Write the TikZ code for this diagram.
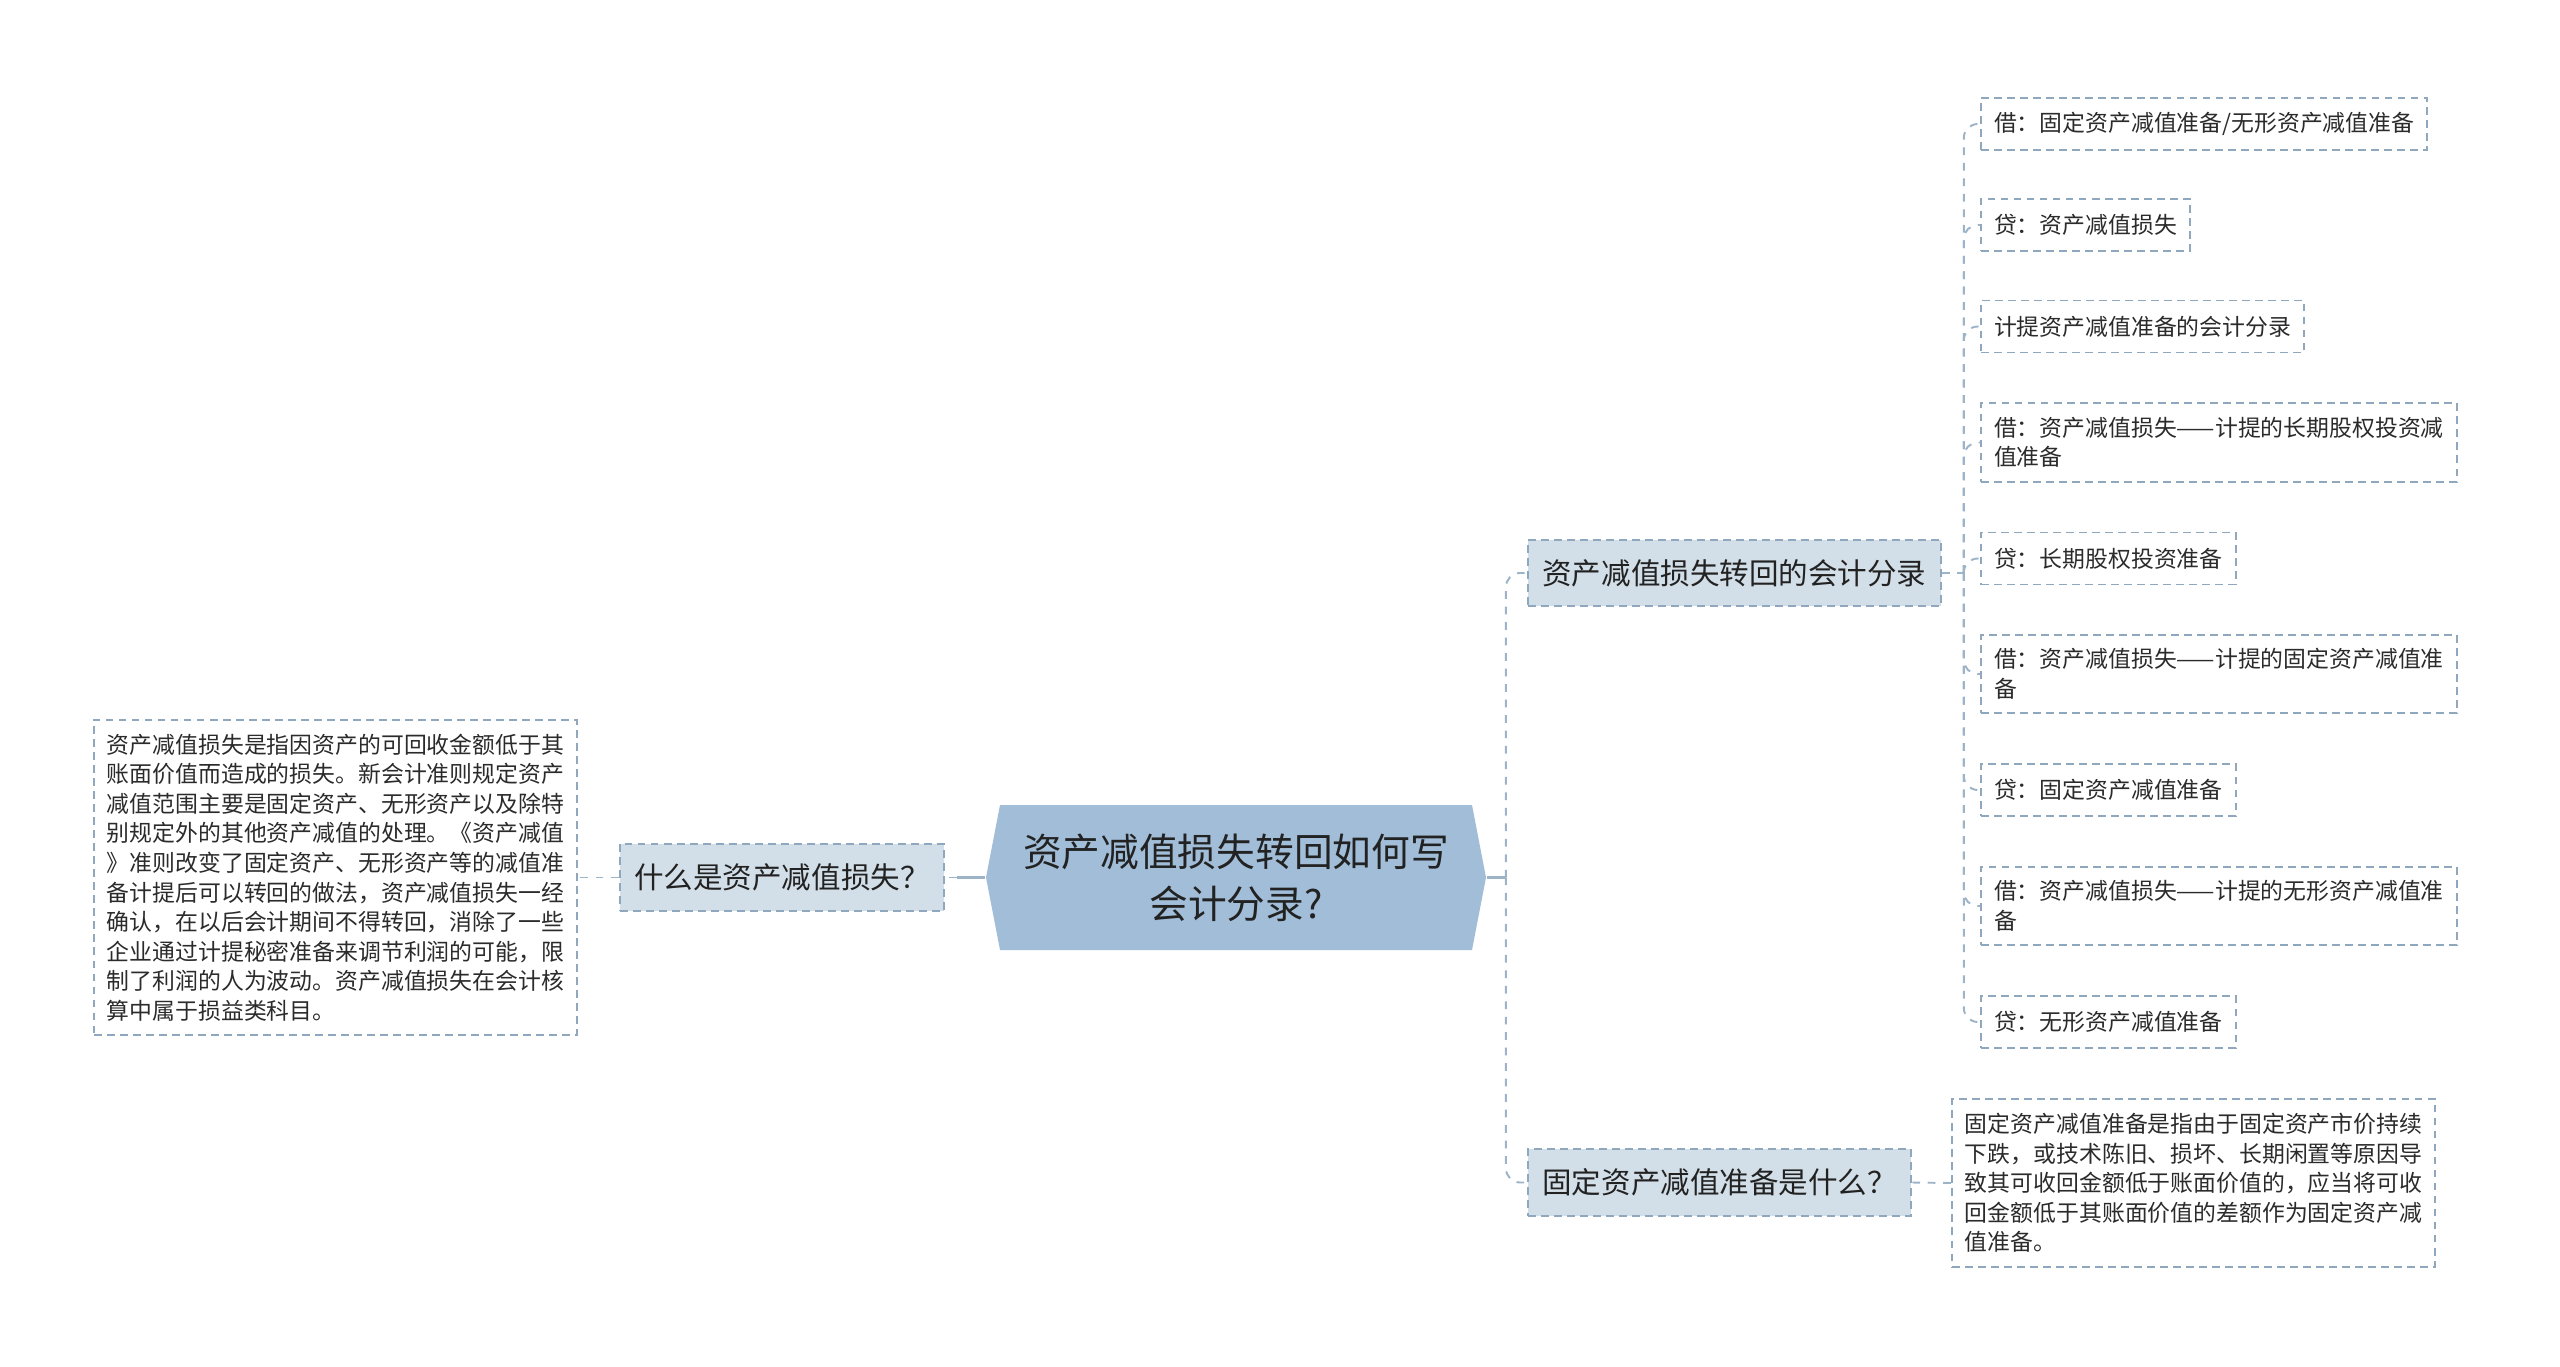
\documentclass[tikz,border=0pt]{standalone}
\usepackage{fontspec}
\setmainfont{Noto Sans CJK SC}
\usepackage{xcolor}
\usepackage{tikz}
\usetikzlibrary{calc}
\definecolor{rootfill}{HTML}{A1BDD8}
\definecolor{topicfill}{HTML}{D3DFE8}
\definecolor{edge}{HTML}{8FA8BD}
\definecolor{wire}{HTML}{9DB3C7}
\definecolor{ink}{HTML}{222222}
\definecolor{leafink}{HTML}{2B2B2B}
\tikzset{
  rootbox/.style={
    font=\fontsize{11pt}{14.8pt}\selectfont,
    text=ink,
    align=center,
    minimum width=142.3pt,
    minimum height=41.3pt,
    inner sep=0pt
  },
  topic/.style={
    font=\fontsize{8.4pt}{10pt}\selectfont,
    text=ink,
    fill=topicfill,
    draw=edge,
    line width=0.55pt,
    dash pattern=on 2.2pt off 1.5pt,
    inner xsep=4.1pt,
    minimum height=19pt
  },
  leaf/.style={
    font=\fontsize{6.5pt}{8.4pt}\selectfont,
    text=leafink,
    draw=edge,
    line width=0.55pt,
    dash pattern=on 2.2pt off 1.5pt,
    align=left,
    inner xsep=3.7pt,
    inner ysep=4pt,
    minimum height=14.8pt
  },
  link/.style={draw=wire, line width=0.9pt},
  dlink/.style={draw=wire, line width=0.55pt, dash pattern=on 2.2pt off 2.2pt}
}

\begin{document}
\begin{tikzpicture}[x=0.01cm, y=-0.01cm]
  \useasboundingbox (0,0) rectangle (2560,1367);

  \fill[rootfill] (1000,805) -- (986,877.5) -- (1000,950) -- (1472,950)
    -- (1486,877.5) -- (1472,805) -- cycle;
  \node[rootbox] (root) at (1236,877.5) {资产减值损失转回如何写\\会计分录?};

  \node[topic, anchor=east] (q1) at (945,877.5) {什么是资产减值损失？};
  \node[leaf, anchor=east] (d1) at (578,877.5) {%
    资产减值损失是指因资产的可回收金额低于其\\
    账面价值而造成的损失。新会计准则规定资产\\
    减值范围主要是固定资产、无形资产以及除特\\
    别规定外的其他资产减值的处理。《资产减值\\
    》准则改变了固定资产、无形资产等的减值准\\
    备计提后可以转回的做法，资产减值损失一经\\
    确认，在以后会计期间不得转回，消除了一些\\
    企业通过计提秘密准备来调节利润的可能，限\\
    制了利润的人为波动。资产减值损失在会计核\\
    算中属于损益类科目。};

  \node[topic, anchor=west] (q2) at (1527,573) {资产减值损失转回的会计分录};
  \node[topic, anchor=west] (q3) at (1527,1182.5) {固定资产减值准备是什么？};

  \node[leaf, anchor=west] (e1) at (1980,124) {借：固定资产减值准备/无形资产减值准备};
  \node[leaf, anchor=west] (e2) at (1980,225) {贷：资产减值损失};
  \node[leaf, anchor=west] (e3) at (1980,326.5) {计提资产减值准备的会计分录};
  \node[leaf, anchor=west] (e4) at (1980,442.5) {借：资产减值损失——计提的长期股权投资减\\值准备};
  \node[leaf, anchor=west] (e5) at (1980,558.5) {贷：长期股权投资准备};
  \node[leaf, anchor=west] (e6) at (1980,674) {借：资产减值损失——计提的固定资产减值准\\备};
  \node[leaf, anchor=west] (e7) at (1980,790) {贷：固定资产减值准备};
  \node[leaf, anchor=west] (e8) at (1980,906) {借：资产减值损失——计提的无形资产减值准\\备};
  \node[leaf, anchor=west] (e9) at (1980,1022) {贷：无形资产减值准备};

  \node[leaf, anchor=west] (d3) at (1951,1183) {%
    固定资产减值准备是指由于固定资产市价持续\\
    下跌，或技术陈旧、损坏、长期闲置等原因导\\
    致其可收回金额低于账面价值的，应当将可收\\
    回金额低于其账面价值的差额作为固定资产减\\
    值准备。};

  \coordinate (lj) at ($(root.west)+(-28,0)$);
  \coordinate (rj) at ($(root.east)+(19,0)$);
  \coordinate (bj) at ($(q2.east)+(22,0)$);

  \draw[link] (root.west) -- (lj);
  \draw[dlink] (lj) -- (q1.east);
  \draw[dlink] (q1.west) -- (d1.east);

  \draw[link] (root.east) -- (rj);
  \draw[dlink, rounded corners=4pt] (rj) |- (q2.west);
  \draw[dlink, rounded corners=4pt] (rj) |- (q3.west);

  \draw[dlink] (q2.east) -- (bj);
  \foreach \n in {e1,e2,e3,e4,e5,e6,e7,e8,e9}
    \draw[dlink, rounded corners=4pt] (bj) |- (\n.west);

  \draw[dlink] (q3.east) -- (d3.west);
\end{tikzpicture}
\end{document}
